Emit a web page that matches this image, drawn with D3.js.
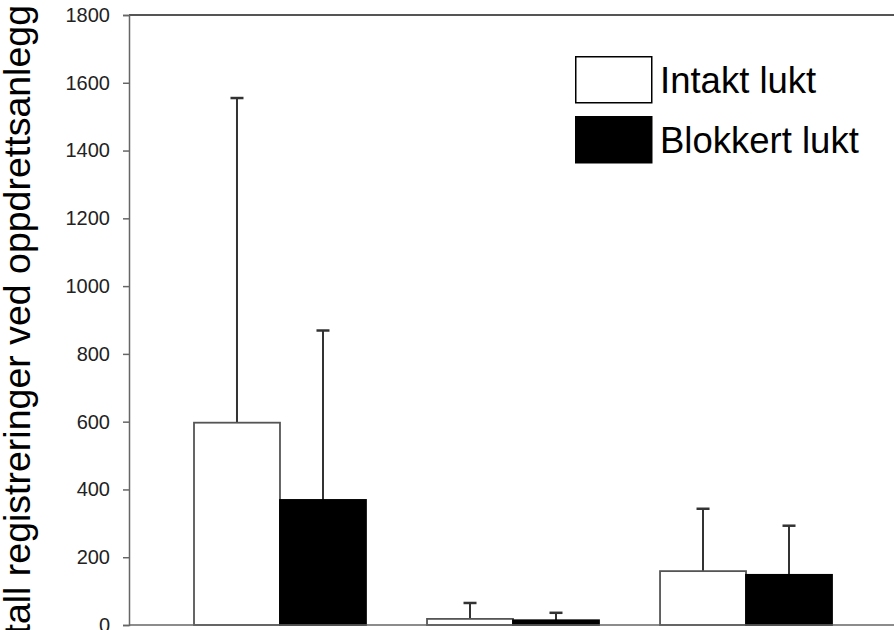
<!DOCTYPE html>
<html>
<head>
<meta charset="utf-8">
<script src="https://cdn.jsdelivr.net/npm/d3@7"></script>
<style>
  body { margin: 0; background: #fff; overflow: hidden; }
  svg { display: block; font-family: "Liberation Sans", Arial, sans-serif; }
  .tick-label { font-size: 20px; fill: #222; }
</style>
</head>
<body>
<svg id="chart" width="894" height="630"></svg>
<script>
const groups = ['Gruppe 1', 'Gruppe 2', 'Gruppe 3'];
const seriesNames = ['Intakt lukt', 'Blokkert lukt'];
const intakt = [597, 18, 159];
const blokkert = [369, 14, 148];
const intaktSd = [958, 47, 184];
const blokkertSd = [500, 22, 145];
const yTicks = [0, 200, 400, 600, 800, 1000, 1200, 1400, 1600, 1800];
const yLabel = 'Antall registreringer ved oppdrettsanlegg';

const svg = d3.select('#chart');
const width = 894, axisX = 129, baseY = 625, topY = 15;

const x = d3.scaleBand()
  .domain(groups)
  .range([194, 832])
  .paddingInner(0.262);

const xInner = d3.scaleBand()
  .domain(seriesNames)
  .range([0, x.bandwidth()]);

const y = d3.scaleLinear()
  .domain([0, 1800])
  .range([baseY, topY]);

const data = groups.flatMap((g, i) => [
  { group: g, series: seriesNames[0], value: intakt[i], sd: intaktSd[i] },
  { group: g, series: seriesNames[1], value: blokkert[i], sd: blokkertSd[i] }
]);

// top frame line
svg.append('line')
  .attr('x1', axisX).attr('x2', width)
  .attr('y1', y(1800)).attr('y2', y(1800))
  .attr('stroke', '#555').attr('stroke-width', 2);

// error bars (upper only)
const cap = 13;
svg.selectAll('.err')
  .data(data)
  .enter()
  .append('g')
  .attr('class', 'err')
  .each(function (d) {
    const cx = x(d.group) + xInner(d.series) + xInner.bandwidth() / 2;
    const g = d3.select(this);
    g.append('line')
      .attr('x1', cx).attr('x2', cx)
      .attr('y1', y(d.value)).attr('y2', y(d.value + d.sd))
      .attr('stroke', '#333').attr('stroke-width', 2);
    g.append('line')
      .attr('x1', cx - cap / 2).attr('x2', cx + cap / 2)
      .attr('y1', y(d.value + d.sd)).attr('y2', y(d.value + d.sd))
      .attr('stroke', '#333').attr('stroke-width', 2.5);
  });

// bars
svg.selectAll('.bar')
  .data(data)
  .enter()
  .append('rect')
  .attr('class', 'bar')
  .attr('x', d => x(d.group) + xInner(d.series))
  .attr('y', d => y(d.value))
  .attr('width', xInner.bandwidth())
  .attr('height', d => baseY - y(d.value))
  .attr('fill', d => d.series === seriesNames[0] ? '#fff' : '#000')
  .attr('stroke', d => d.series === seriesNames[0] ? '#555' : '#000')
  .attr('stroke-width', 1.8);

// bottom line
svg.append('line')
  .attr('x1', axisX).attr('x2', width)
  .attr('y1', baseY).attr('y2', baseY)
  .attr('stroke', '#666').attr('stroke-width', 1.5);

// y axis
const yAxis = svg.append('g')
  .attr('transform', `translate(${axisX}, 0)`)
  .call(d3.axisLeft(y).tickValues(yTicks).tickSize(6).tickPadding(13).tickFormat(d3.format('d')));
yAxis.select('.domain').attr('stroke', '#666').attr('stroke-width', 1.5);
yAxis.selectAll('.tick line').attr('stroke', '#666').attr('stroke-width', 1.5);
yAxis.selectAll('.tick text')
  .attr('class', 'tick-label')
  .attr('font-family', null)
  .attr('font-size', null)
  .attr('fill', null);

// y label (cut off at the bottom edge, as in the original)
svg.append('text')
  .attr('transform', 'translate(30, 5) rotate(-90)')
  .attr('text-anchor', 'end')
  .attr('font-size', 37.5)
  .attr('fill', '#000')
  .text(yLabel);

// legend
const legend = svg.append('g').attr('transform', 'translate(575, 56)');
seriesNames.forEach((name, i) => {
  const row = legend.append('g').attr('transform', `translate(0, ${i * 60})`);
  row.append('rect')
    .attr('x', 0.75).attr('y', 0.75)
    .attr('width', 76).attr('height', 46)
    .attr('fill', i === 0 ? '#fff' : '#000')
    .attr('stroke', '#000').attr('stroke-width', 1.5);
  row.append('text')
    .attr('x', 85).attr('y', 37)
    .attr('font-size', 36.5)
    .attr('fill', '#000')
    .text(name);
});
</script>
</body>
</html>
